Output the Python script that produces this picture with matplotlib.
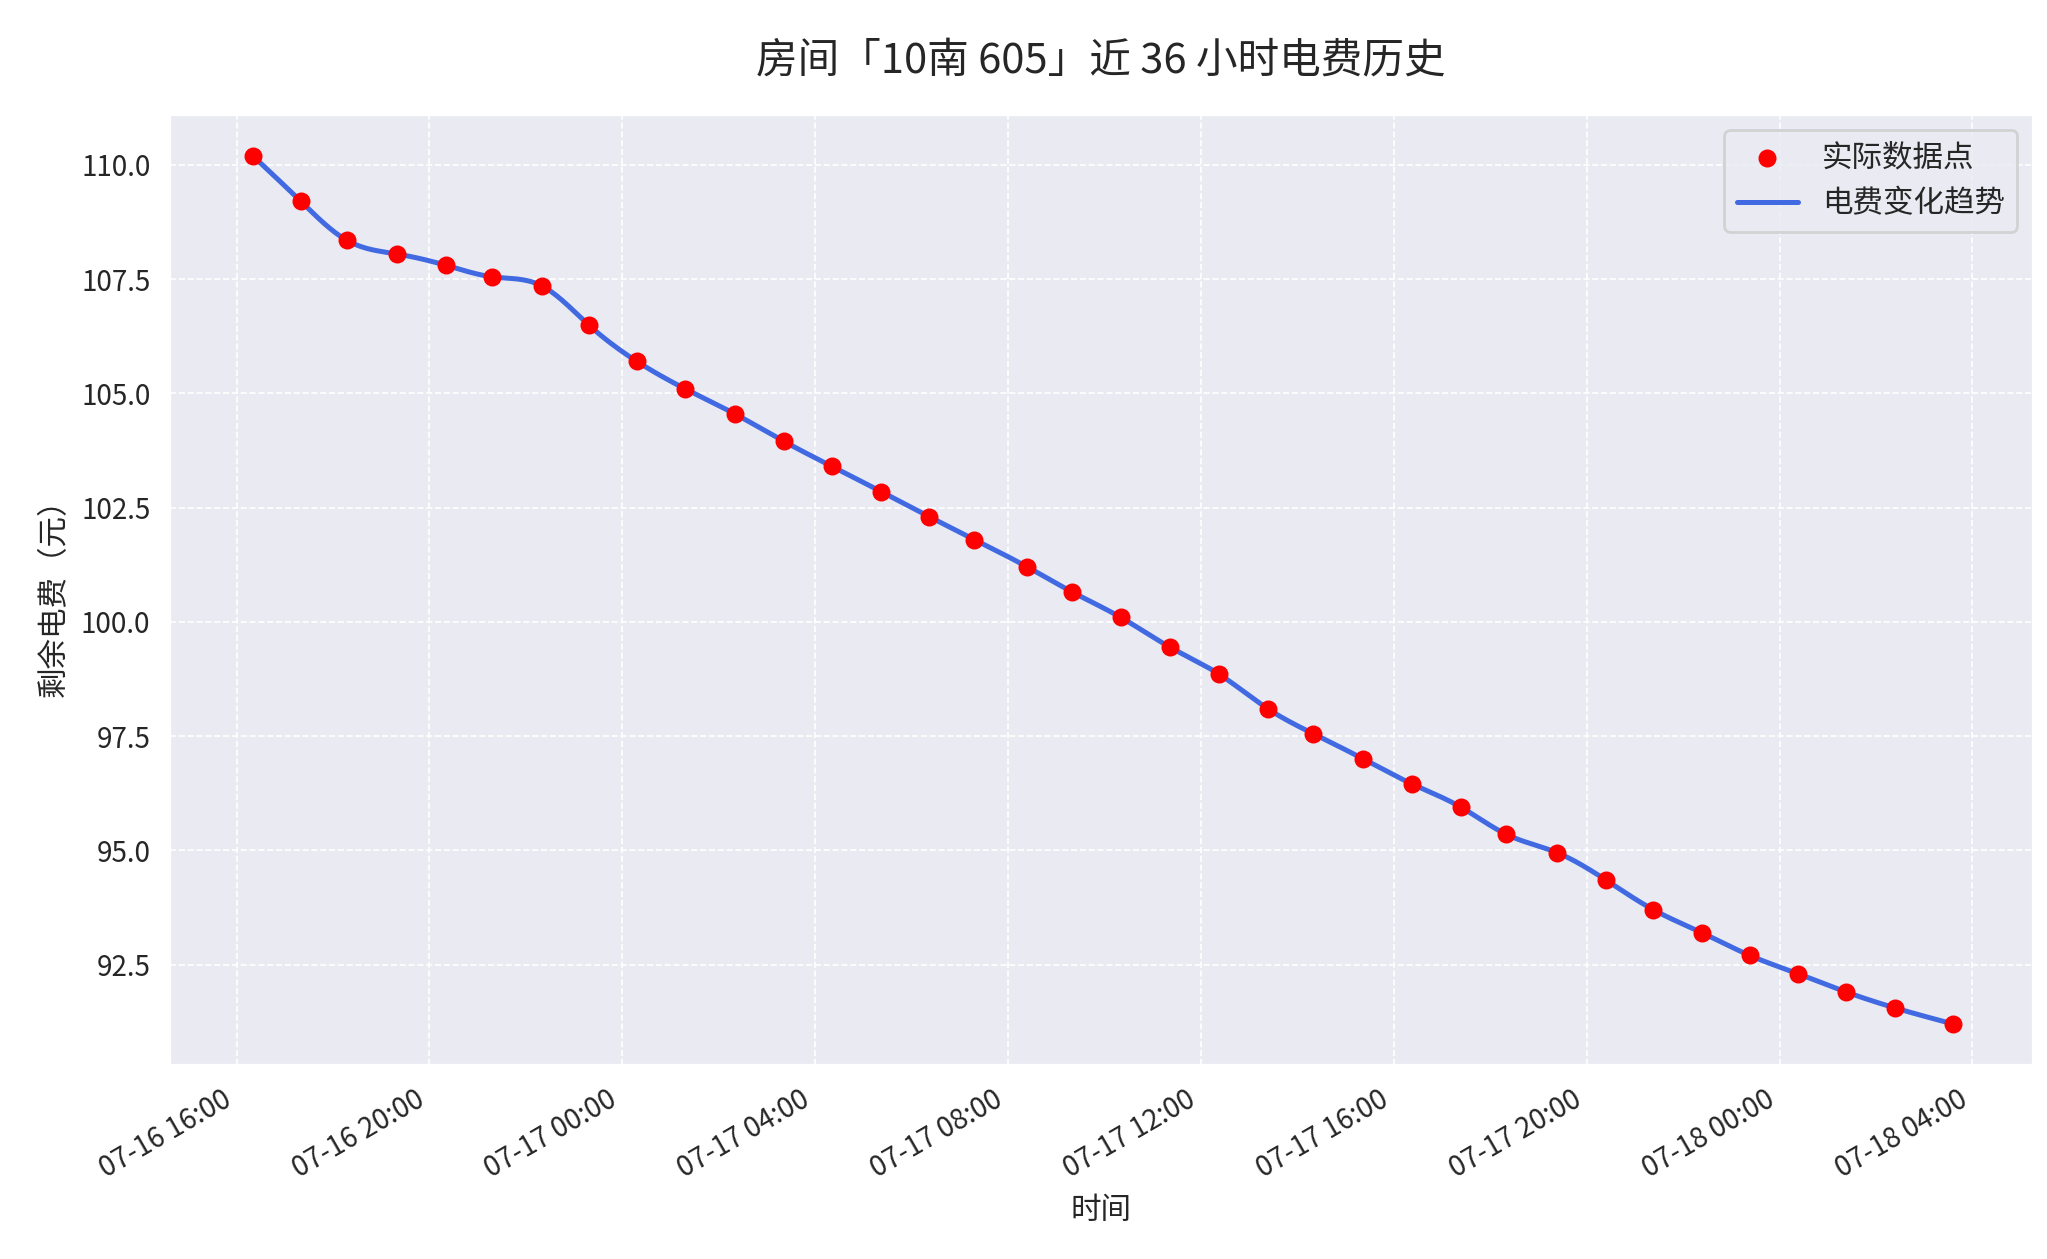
import numpy as np
import pandas as pd
import matplotlib
matplotlib.use('Agg')
import matplotlib.pyplot as plt
import matplotlib.dates as mdates
import seaborn as sns

times = ['07-16 16:20', '07-16 17:20', '07-16 18:17', '07-16 19:19', '07-16 20:21', '07-16 21:18',
         '07-16 22:20', '07-16 23:18', '07-17 00:18', '07-17 01:18', '07-17 02:20', '07-17 03:21',
         '07-17 04:21', '07-17 05:22', '07-17 06:22', '07-17 07:18', '07-17 08:24', '07-17 09:20',
         '07-17 10:20', '07-17 11:21', '07-17 12:23', '07-17 13:23', '07-17 14:20', '07-17 15:22',
         '07-17 16:23', '07-17 17:23', '07-17 18:20', '07-17 19:23', '07-17 20:24', '07-17 21:23',
         '07-17 22:23', '07-17 23:23', '07-18 00:23', '07-18 01:23', '07-18 02:24', '07-18 03:36']
balance = [110.2, 109.2, 108.35, 108.05, 107.8, 107.55, 107.35, 106.5, 105.7, 105.1, 104.55, 103.95,
           103.4, 102.85, 102.3, 101.8, 101.2, 100.65, 100.1, 99.45, 98.85, 98.1, 97.55, 97.0,
           96.45, 95.95, 95.35, 94.95, 94.35, 93.7, 93.2, 92.7, 92.3, 91.9, 91.55, 91.2]

sns.set_style('darkgrid', {'grid.linestyle': '--'})
plt.rcParams['font.family'] = ['Noto Sans CJK SC', 'DejaVu Sans']
plt.rcParams['axes.unicode_minus'] = False

t = pd.to_datetime(['2024-' + s for s in times], format='%Y-%m-%d %H:%M')
x = mdates.date2num(t)
y = np.array(balance)


def natural_spline(xk, yk, xs):
    # натуральный кубический сплайн
    n = len(xk)
    h = np.diff(xk)
    A = np.zeros((n, n))
    b = np.zeros(n)
    A[0, 0] = A[-1, -1] = 1
    for i in range(1, n - 1):
        A[i, i - 1] = h[i - 1]
        A[i, i] = 2 * (h[i - 1] + h[i])
        A[i, i + 1] = h[i]
        b[i] = 3 * ((yk[i + 1] - yk[i]) / h[i] - (yk[i] - yk[i - 1]) / h[i - 1])
    c = np.linalg.solve(A, b)
    idx = np.clip(np.searchsorted(xk, xs) - 1, 0, n - 2)
    dx = xs - xk[idx]
    hi = h[idx]
    bb = (yk[idx + 1] - yk[idx]) / hi - hi * (2 * c[idx] + c[idx + 1]) / 3
    d = (c[idx + 1] - c[idx]) / (3 * hi)
    return yk[idx] + bb * dx + c[idx] * dx ** 2 + d * dx ** 3


xs = np.linspace(x[0], x[-1], 600)
ys = natural_spline(x, y, xs)

fig = plt.figure(figsize=(10.235, 6.295), dpi=200)
ax = fig.add_axes([0.083, 0.154, 0.91, 0.755])
ax.scatter(t, y, color='red', s=30, zorder=3, label='实际数据点')
ax.plot(mdates.num2date(xs), ys, color='royalblue', lw=1.8, label='电费变化趋势')
ax.grid(True, linestyle='--', linewidth=0.6)

ax.xaxis.set_major_locator(mdates.HourLocator(byhour=range(0, 24, 4)))
ax.xaxis.set_major_formatter(mdates.DateFormatter('%m-%d %H:%M'))
plt.setp(ax.get_xticklabels(), rotation=30, ha='right')
ax.set_xlim(mdates.date2num(pd.Timestamp('2024-07-16 14:37')), mdates.date2num(pd.Timestamp('2024-07-18 05:15')))
ax.set_ylim(90.3, 111.1)

ax.set_title('房间「10南 605」近 36 小时电费历史', fontsize=15, pad=15)
ax.set_xlabel('时间', fontsize=11)
ax.set_ylabel('剩余电费（元）', fontsize=11)
ax.legend(loc='upper right', fontsize=11)

fig.savefig('out.png', dpi=200)
